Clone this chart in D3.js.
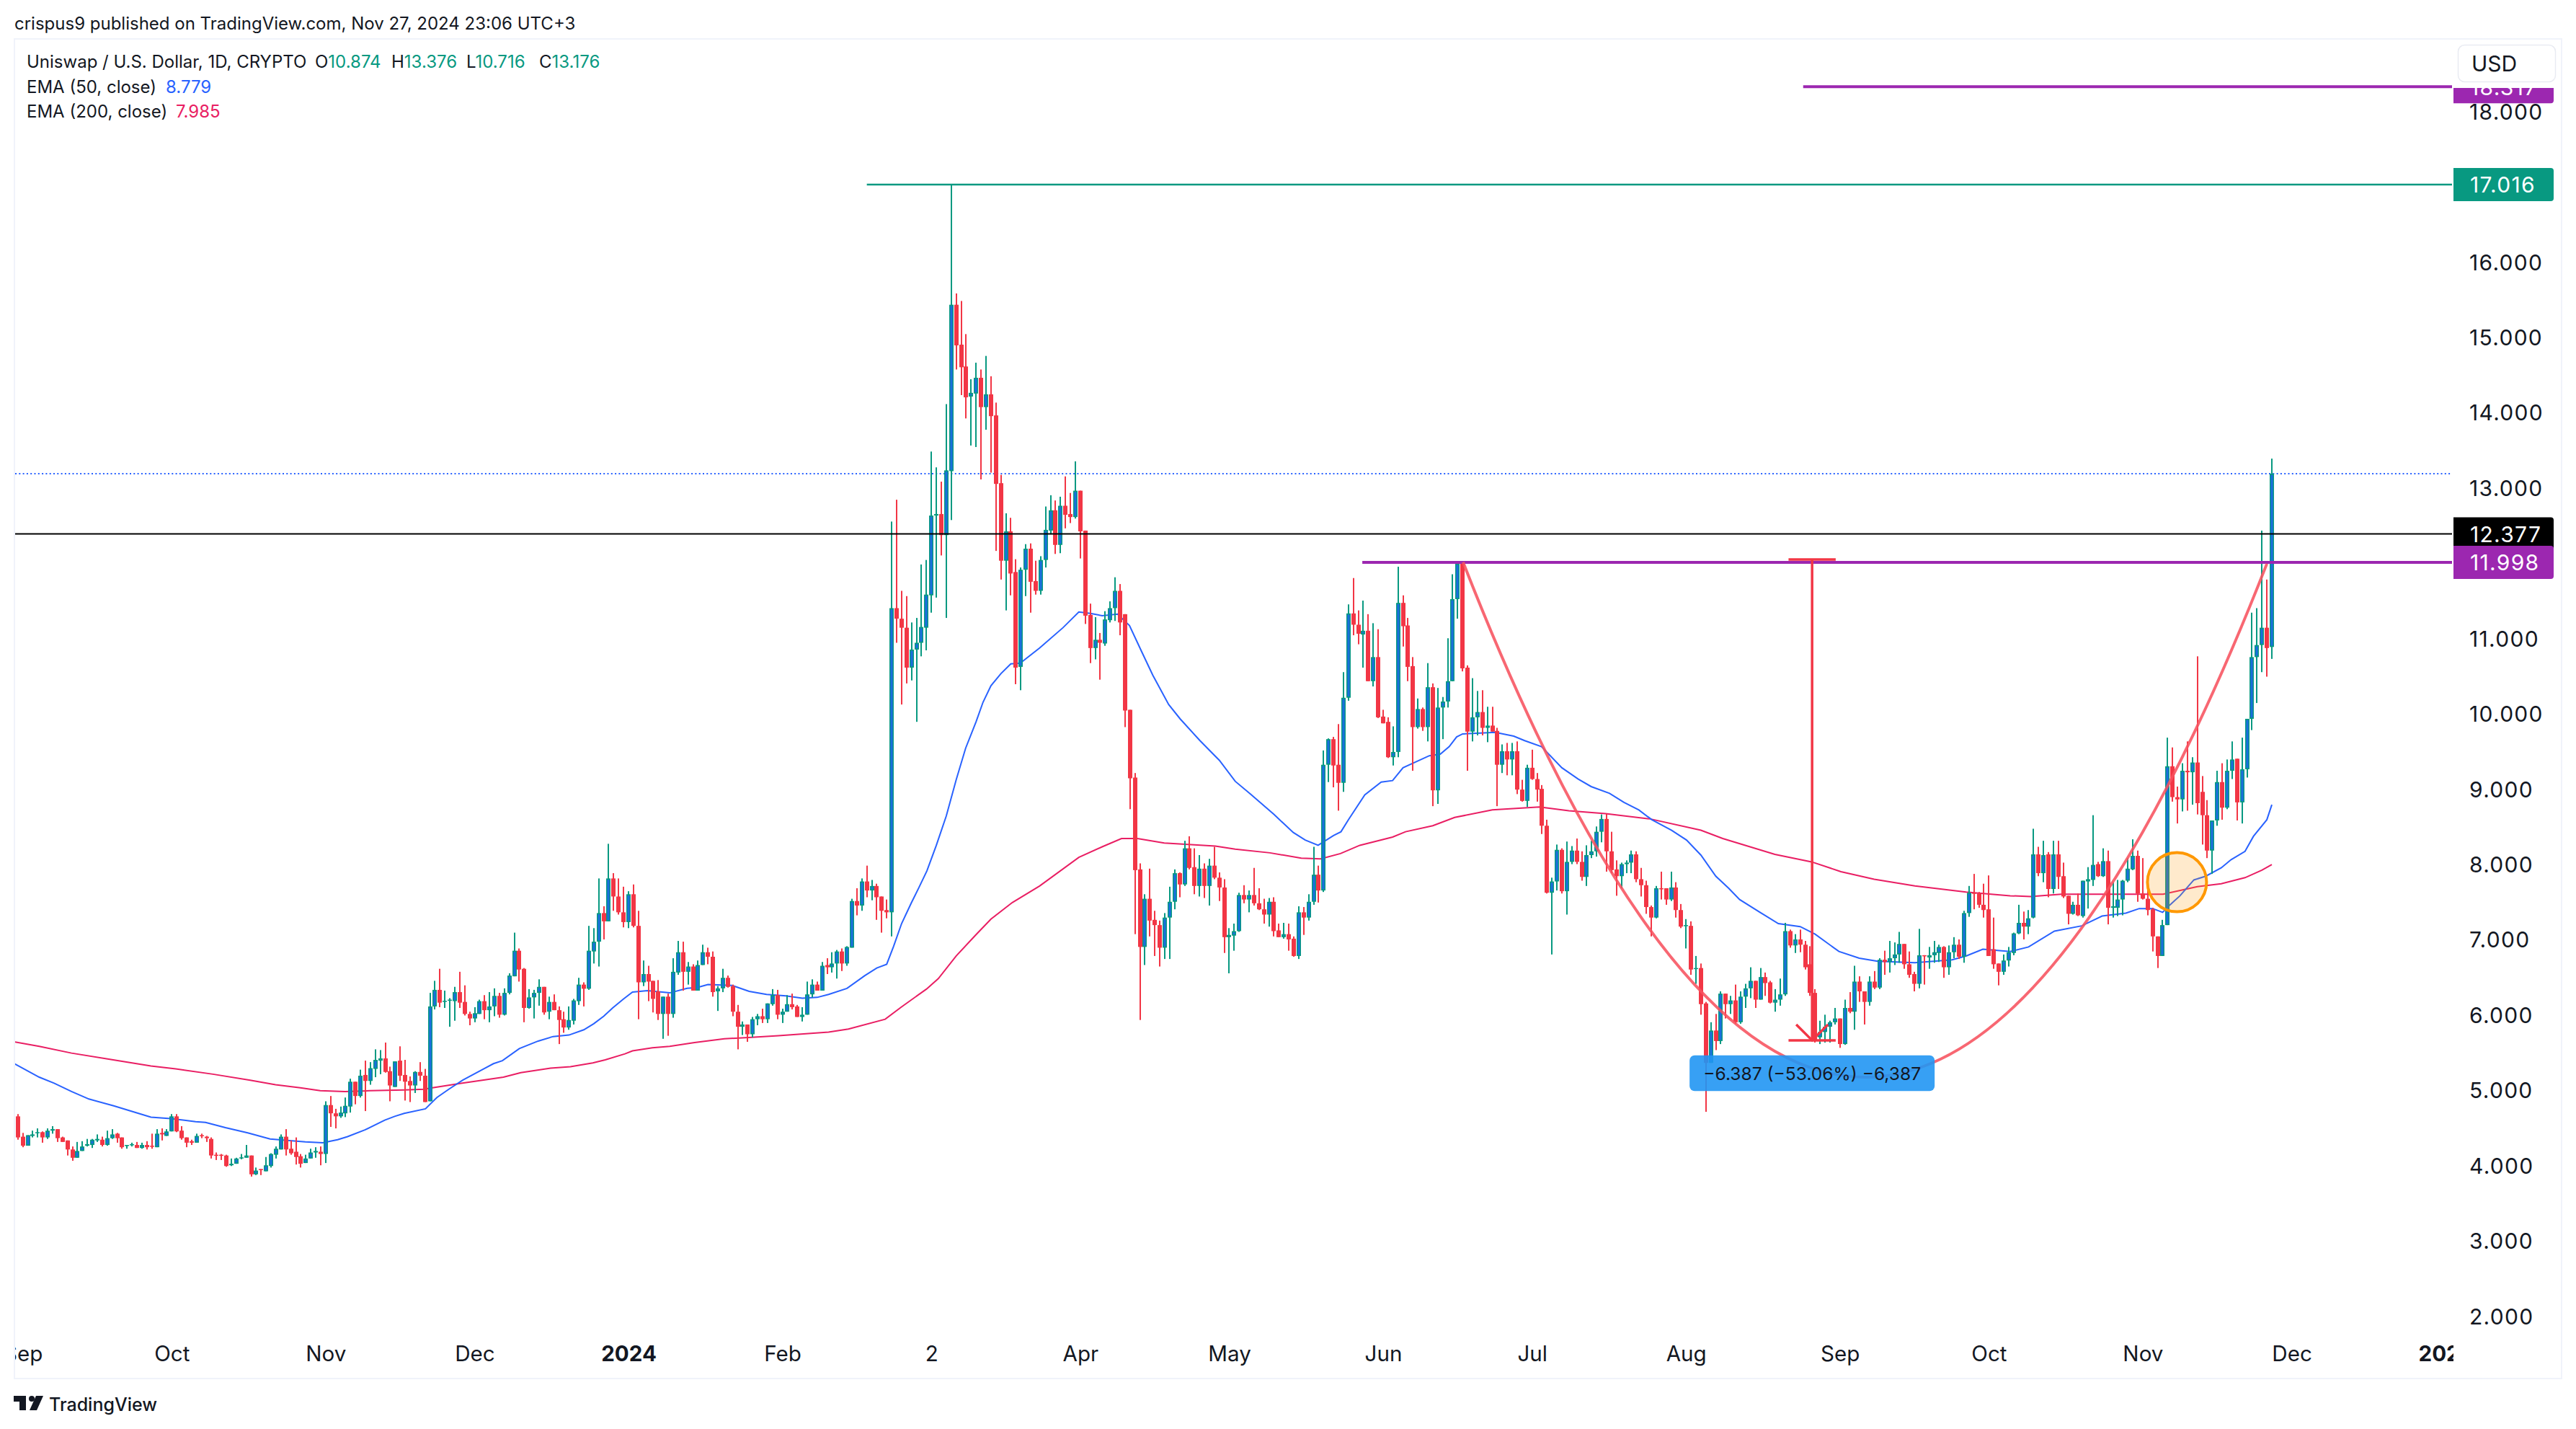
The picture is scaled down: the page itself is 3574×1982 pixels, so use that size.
<!DOCTYPE html>
<html><head><meta charset="utf-8">
<script src="https://cdnjs.cloudflare.com/ajax/libs/d3/7.8.5/d3.min.js"></script>
<style>html,body{margin:0;padding:0;background:#fff}svg{display:block}text{font-family:Inter,"Noto Sans",sans-serif}</style>
</head><body><svg id="c" width="3574" height="1982"></svg>
<script>
// Daily candles, first entry is the partly hidden candle at the left edge; last entry is 27 Nov 2024
const lastDay = Date.UTC(2024,10,27);
const opens = [4.80,
4.64,4.37,4.25,4.38,4.42,4.43,4.36,4.45,4.47,4.36,
4.32,4.20,4.09,4.18,4.25,4.26,4.32,4.33,4.26,4.35,
4.41,4.36,4.25,4.26,4.26,4.22,4.26,4.25,4.23,4.42,
4.38,4.44,4.64,4.45,4.36,4.31,4.29,4.39,4.37,4.34,
4.13,4.13,4.12,3.99,4.01,4.085,4.09,4.12,3.87,3.94,
3.91,3.98,4.13,4.20,4.37,4.21,4.17,4.11,4.02,4.08,
4.16,4.17,4.14,4.79,4.68,4.64,4.68,4.77,5.10,4.91,
5.19,5.11,5.27,5.38,5.41,5.24,5.03,5.38,5.19,5.11,
5.05,5.23,5.18,4.84,6.10,6.32,6.165,6.18,6.17,6.29,
6.16,6.00,5.94,6.00,6.17,6.05,6.10,6.24,5.99,6.28,
6.50,6.84,6.60,6.08,6.22,6.28,6.36,6.03,6.16,6.05,
5.93,5.82,5.91,6.17,6.39,6.335,6.83,6.96,7.34,7.23,
7.80,7.56,7.35,7.22,7.59,7.17,6.42,6.53,6.44,6.30,
6.00,6.23,6.00,6.55,6.82,6.56,6.63,6.31,6.65,6.82,
6.76,6.30,6.34,6.48,6.37,6.03,5.83,5.86,5.73,5.93,
5.97,5.93,6.13,6.25,5.99,6.03,6.13,6.10,5.96,5.99,
6.26,6.39,6.31,6.65,6.62,6.67,6.83,6.67,6.88,7.50,
7.44,7.76,7.64,7.70,7.56,7.38,7.35,11.39,11.25,11.13,
10.60,10.84,10.93,11.13,11.56,12.62,12.64,12.36,13.21,15.42,
14.89,14.60,14.20,14.24,14.45,14.06,14.23,13.95,13.05,12.02,
12.41,11.87,10.61,11.90,12.18,11.75,11.62,12.03,12.42,12.69,
12.23,12.75,12.64,12.60,12.95,12.42,11.30,10.86,10.97,10.92,
11.23,11.39,11.62,11.31,10.04,9.14,7.92,6.89,7.53,7.25,
7.18,6.88,7.28,7.49,7.87,7.72,8.20,7.95,7.70,7.93,
7.70,7.97,7.81,7.68,7.02,7.04,7.10,7.58,7.52,7.58,
7.47,7.39,7.32,7.49,7.11,7.02,7.06,7.00,6.77,7.35,
7.28,7.49,7.85,7.64,9.31,9.65,9.31,9.07,10.20,11.32,
11.17,11.04,11.09,10.42,10.74,9.95,9.88,9.41,9.48,11.46,
11.16,10.62,9.81,10.05,9.81,10.34,8.97,10.07,10.15,10.42,
11.51,11.98,10.60,9.75,9.94,10.01,9.80,9.83,9.76,9.31,
9.49,9.38,9.49,8.98,8.83,9.27,9.12,8.99,8.50,7.61,
7.76,8.18,7.63,8.02,8.17,8.02,7.82,8.11,8.16,8.42,
8.59,8.16,7.92,7.83,7.99,8.01,8.12,7.79,7.71,7.42,
7.28,7.67,7.67,7.52,7.68,7.38,7.17,7.17,6.60,6.61,
6.14,5.35,5.78,5.64,6.27,6.13,6.18,5.89,6.23,6.34,
6.44,6.19,6.49,6.42,6.15,6.19,6.26,7.10,6.91,6.99,
6.92,6.66,6.28,5.69,5.76,5.83,5.89,5.94,5.60,6.08,
6.03,6.43,6.30,6.16,6.43,6.35,6.72,6.69,6.74,6.79,
6.93,6.66,6.53,6.40,6.78,6.75,6.78,6.81,6.89,6.62,
6.82,6.92,6.76,7.34,7.61,7.60,7.45,7.39,6.86,6.67,
6.56,6.71,6.81,7.07,7.21,7.16,7.28,8.12,7.87,8.12,
7.66,8.12,7.83,7.57,7.33,7.45,7.30,7.76,7.78,7.99,
7.83,8.03,7.41,7.41,7.52,7.77,7.92,8.10,7.60,7.53,
7.39,7.03,6.77,7.18,9.29,8.88,8.85,9.23,9.21,9.34,
8.95,8.64,8.17,8.57,9.08,8.74,9.23,9.39,8.81,9.25,
9.92,10.74,10.90,11.13,10.874];
const closes = [4.64,
4.36,4.25,4.39,4.40,4.43,4.36,4.45,4.47,4.35,4.30,
4.20,4.09,4.18,4.24,4.27,4.33,4.34,4.26,4.35,4.40,
4.35,4.23,4.26,4.27,4.22,4.26,4.23,4.24,4.41,4.40,
4.44,4.64,4.44,4.35,4.29,4.29,4.38,4.38,4.35,4.12,
4.12,4.12,3.98,4.01,4.08,4.095,4.12,3.87,3.92,3.93,
3.99,4.14,4.21,4.37,4.20,4.15,4.10,4.01,4.08,4.16,
4.18,4.14,4.79,4.68,4.64,4.69,4.78,5.10,4.91,5.18,
5.11,5.28,5.39,5.41,5.23,5.05,5.37,5.18,5.10,5.05,
5.23,5.18,4.83,6.10,6.32,6.15,6.175,6.19,6.29,6.15,
6.00,5.94,6.01,6.17,6.05,6.10,6.24,5.99,6.28,6.51,
6.84,6.59,6.08,6.22,6.28,6.36,6.02,6.16,6.05,5.92,
5.82,5.92,6.18,6.39,6.335,6.84,6.96,7.34,7.23,7.80,
7.56,7.35,7.22,7.59,7.17,6.42,6.53,6.43,6.20,6.00,
6.23,6.00,6.56,6.82,6.56,6.63,6.31,6.65,6.82,6.76,
6.29,6.34,6.48,6.36,6.03,5.83,5.86,5.73,5.93,5.97,
5.93,6.14,6.25,5.99,6.03,6.13,6.09,5.96,5.99,6.26,
6.39,6.31,6.64,6.62,6.67,6.83,6.67,6.89,7.50,7.44,
7.76,7.64,7.70,7.55,7.37,7.35,11.39,11.25,11.13,10.60,
10.84,10.93,11.14,11.57,12.62,12.64,12.36,13.22,15.42,14.88,
14.59,14.19,14.25,14.45,14.06,14.23,13.94,13.04,12.02,12.41,
11.85,10.60,11.90,12.18,11.74,11.62,12.03,12.43,12.69,12.23,
12.75,12.63,12.60,12.95,12.41,11.29,10.86,10.97,10.93,11.24,
11.39,11.62,11.20,10.03,9.13,7.91,6.89,7.53,7.24,7.18,
6.88,7.28,7.49,7.87,7.72,8.20,7.94,7.70,7.93,7.70,
7.97,7.81,7.68,7.02,7.05,7.10,7.58,7.52,7.58,7.47,
7.39,7.32,7.49,7.10,7.02,7.06,6.99,6.77,7.35,7.28,
7.49,7.85,7.64,9.31,9.65,9.30,9.07,10.20,11.32,11.17,
11.05,11.09,10.42,10.74,9.94,9.86,9.41,9.48,11.46,11.15,
10.61,9.81,10.05,9.81,10.34,8.97,10.07,10.15,10.42,11.51,
11.98,10.59,9.75,9.94,10.01,9.80,9.83,9.75,9.31,9.49,
9.38,9.49,8.98,8.83,9.27,9.12,8.98,8.50,7.61,7.76,
8.18,7.63,8.02,8.17,8.02,7.82,8.11,8.16,8.42,8.59,
8.16,7.91,7.83,7.99,8.01,8.12,7.79,7.71,7.42,7.28,
7.67,7.66,7.52,7.68,7.38,7.16,7.18,6.59,6.61,6.13,
5.35,5.78,5.64,6.27,6.13,6.18,5.89,6.23,6.34,6.44,
6.19,6.49,6.41,6.15,6.19,6.26,7.10,6.91,6.99,6.92,
6.62,6.28,5.64,5.76,5.83,5.89,5.94,5.60,6.08,6.03,
6.43,6.30,6.16,6.43,6.35,6.72,6.69,6.74,6.79,6.93,
6.66,6.52,6.40,6.78,6.77,6.78,6.82,6.89,6.62,6.82,
6.92,6.76,7.34,7.61,7.60,7.45,7.38,6.77,6.66,6.56,
6.71,6.82,7.07,7.21,7.16,7.27,8.12,7.87,8.11,7.66,
8.12,7.82,7.56,7.33,7.45,7.31,7.77,7.79,7.98,7.83,
8.03,7.41,7.43,7.52,7.77,7.93,8.10,7.60,7.53,7.38,
7.03,6.77,7.18,9.29,8.88,8.85,9.23,9.21,9.34,8.80,
8.64,8.17,8.57,9.08,8.74,9.23,9.38,8.81,9.25,9.92,
10.74,10.90,11.13,10.86,13.176];
const highs = [4.85,
4.67,4.42,4.39,4.45,4.48,4.44,4.48,4.51,4.47,4.37,
4.32,4.24,4.30,4.31,4.34,4.34,4.40,4.37,4.45,4.47,
4.42,4.36,4.26,4.29,4.30,4.29,4.31,4.41,4.47,4.48,
4.47,4.67,4.67,4.51,4.36,4.33,4.41,4.41,4.38,4.36,
4.16,4.14,4.13,4.08,4.09,4.14,4.26,4.12,3.96,3.94,
4.10,4.15,4.24,4.40,4.47,4.32,4.36,4.14,4.13,4.21,
4.23,4.24,4.84,4.91,4.74,4.77,4.89,5.14,5.10,5.26,
5.38,5.36,5.53,5.52,5.62,5.30,5.37,5.57,5.39,5.17,
5.24,5.36,5.27,6.28,6.44,6.60,6.31,6.21,6.36,6.56,
6.38,6.03,6.09,6.19,6.25,6.29,6.34,6.28,6.34,6.54,
7.08,6.87,6.61,6.33,6.32,6.46,6.36,6.23,6.26,6.10,
6.03,6.10,6.20,6.48,6.42,7.17,7.14,7.80,7.43,8.26,
7.87,7.80,7.69,7.63,7.72,7.37,6.71,6.64,6.44,6.45,
6.23,6.27,6.74,6.97,6.96,6.69,6.66,6.71,6.92,6.88,
6.83,6.37,6.60,6.51,6.39,6.12,5.90,5.86,5.96,6.00,
6.07,6.14,6.33,6.32,6.07,6.25,6.27,6.12,6.09,6.43,
6.46,6.43,6.69,6.74,6.82,6.85,6.87,6.90,7.53,7.67,
7.80,7.97,7.78,7.73,7.56,7.52,12.54,12.83,11.62,11.55,
11.20,11.26,11.97,12.03,13.47,13.26,13.07,14.10,17.016,15.57,
15.47,15.03,14.43,14.65,14.56,14.74,14.47,14.12,13.16,12.65,
12.59,12.04,11.93,12.24,12.25,12.02,12.08,12.74,12.89,12.82,
12.87,13.14,12.92,13.34,12.95,12.42,11.45,11.27,11.06,11.35,
11.48,11.80,11.71,11.31,10.04,9.20,8.00,7.59,7.93,7.37,
7.24,7.34,7.69,7.92,7.88,8.30,8.36,8.20,8.11,8.00,
8.06,8.22,7.88,7.79,7.14,7.20,7.61,7.71,7.64,7.94,
7.67,7.53,7.54,7.55,7.20,7.21,7.20,7.03,7.43,7.42,
7.59,8.22,7.97,9.50,9.66,9.68,9.85,10.54,11.44,11.79,
11.36,11.49,11.31,11.19,11.11,10.04,9.94,9.82,11.94,11.56,
11.26,10.74,10.19,10.07,10.66,10.39,10.33,10.21,10.99,11.84,
11.99,12.00,10.63,10.46,10.29,10.30,10.08,10.08,9.80,9.58,
9.60,9.60,9.62,9.11,9.31,9.51,9.20,9.04,8.58,7.81,
8.25,8.20,8.29,8.23,8.33,8.16,8.24,8.30,8.49,8.65,
8.66,8.42,8.04,8.01,8.04,8.17,8.16,7.94,7.77,7.44,
7.70,7.89,7.67,7.89,7.75,7.46,7.26,7.23,6.77,6.67,
6.16,5.89,6.00,6.30,6.27,6.24,6.39,6.30,6.40,6.62,
6.44,6.61,6.55,6.44,6.33,6.47,7.21,7.12,7.06,7.12,
6.97,6.90,6.33,5.91,5.99,5.91,6.08,5.94,6.19,6.29,
6.64,6.50,6.30,6.50,6.57,6.74,6.84,6.97,6.95,7.09,
6.93,6.83,6.56,7.13,6.78,6.89,6.97,6.92,6.90,6.91,
7.02,6.99,7.37,7.70,7.86,7.62,7.73,7.84,7.28,6.67,
6.79,6.89,7.08,7.45,7.36,7.38,8.46,8.22,8.30,8.15,
8.30,8.30,8.01,7.57,7.49,7.60,7.77,7.95,8.64,8.02,
8.20,8.17,7.75,7.78,7.78,8.07,8.32,8.17,8.07,7.75,
7.41,7.03,7.25,9.67,9.54,9.02,9.33,9.62,9.41,10.75,
9.16,8.84,8.57,9.23,9.33,9.38,9.62,9.39,9.67,9.92,
11.33,11.39,12.42,11.77,13.376];
const lows = [4.62,
4.33,4.23,4.25,4.36,4.36,4.29,4.34,4.41,4.30,4.30,
4.12,4.05,4.09,4.18,4.24,4.22,4.30,4.24,4.25,4.34,
4.29,4.21,4.21,4.24,4.22,4.21,4.20,4.21,4.23,4.32,
4.38,4.44,4.43,4.33,4.23,4.26,4.29,4.35,4.30,4.08,
4.06,4.06,3.97,3.98,4.01,4.07,4.09,3.84,3.86,3.86,
3.91,3.96,4.08,4.20,4.12,4.13,4.00,3.96,4.02,4.08,
4.09,3.99,4.02,4.50,4.48,4.62,4.63,4.69,4.80,4.89,
4.71,5.06,5.16,5.20,5.22,4.84,5.03,5.11,4.85,4.83,
4.95,5.11,4.83,4.84,6.06,6.09,6.08,5.83,5.91,6.08,
5.98,5.85,5.89,6.00,5.93,5.89,5.97,5.95,5.98,6.26,
6.50,6.43,5.89,6.07,5.94,6.11,5.99,5.93,6.05,5.60,
5.75,5.79,5.86,6.12,6.10,6.32,6.67,6.63,6.99,7.23,
7.37,7.32,7.15,7.14,7.15,5.93,6.37,6.17,6.02,5.92,
5.67,5.71,5.95,6.52,6.31,6.39,6.31,6.31,6.65,6.66,
6.23,6.04,6.29,6.35,5.97,5.53,5.72,5.63,5.69,5.85,
5.88,5.88,6.11,5.93,5.88,6.03,6.06,5.96,5.90,5.99,
6.22,6.31,6.31,6.53,6.55,6.47,6.57,6.64,6.88,7.31,
7.37,7.55,7.51,7.25,7.08,7.27,7.03,10.93,10.11,10.39,
10.43,9.88,10.75,10.83,11.33,11.53,12.09,11.26,12.56,14.56,
14.22,13.91,13.55,13.53,13.10,13.76,13.19,12.15,11.77,11.36,
11.56,10.38,10.30,11.55,11.33,11.57,11.57,11.93,12.37,12.11,
12.12,12.45,12.52,12.58,12.05,11.18,10.66,10.71,10.44,10.89,
11.20,11.22,11.03,9.81,8.72,7.06,5.92,6.65,7.03,6.77,
6.63,6.73,6.73,7.39,7.55,7.70,7.92,7.59,7.56,7.54,
7.44,7.79,7.50,6.81,6.54,6.84,7.09,7.47,7.35,7.44,
7.38,7.20,7.16,7.03,7.02,7.00,6.84,6.76,6.73,7.05,
7.24,7.45,7.48,7.62,9.08,9.01,8.70,8.95,10.16,11.03,
10.91,10.60,10.42,10.35,9.93,9.86,9.40,9.30,9.41,10.88,
10.42,9.23,9.79,9.76,9.62,8.76,8.79,9.65,10.07,10.42,
11.25,10.55,9.23,9.62,9.70,9.70,9.61,9.75,8.76,9.20,
9.17,9.17,8.92,8.82,8.75,9.11,8.82,8.39,7.60,6.79,
7.64,7.60,7.32,7.99,7.99,7.77,7.70,8.07,8.09,8.28,
7.89,7.87,7.57,7.67,7.87,7.87,7.75,7.56,7.33,7.03,
7.27,7.52,7.45,7.50,7.28,7.14,6.87,6.52,6.40,5.99,
4.70,5.35,5.52,5.60,5.94,6.00,5.87,5.87,6.08,6.21,
6.08,6.19,6.24,6.14,6.03,6.11,6.24,6.88,6.81,6.82,
6.59,6.24,5.62,5.60,5.62,5.62,5.86,5.55,5.59,6.01,
5.79,6.16,5.86,6.11,6.33,6.33,6.52,6.55,6.65,6.68,
6.60,6.48,6.30,6.34,6.39,6.60,6.68,6.69,6.48,6.52,
6.74,6.73,6.68,7.29,7.39,7.41,7.28,6.77,6.60,6.38,
6.52,6.63,6.78,7.06,6.99,7.06,7.27,7.83,7.75,7.55,
7.60,7.66,7.54,7.19,7.32,7.30,7.28,7.40,7.70,7.82,
7.82,7.19,7.28,7.30,7.31,7.75,7.91,7.49,7.52,7.31,
6.83,6.61,6.77,7.18,8.82,8.53,8.69,8.70,8.78,8.65,
8.25,8.07,7.86,8.50,8.58,8.72,9.12,8.57,8.53,9.14,
9.77,10.13,10.54,10.48,10.716];

// Moving averages read at their visible bends: days are counted from the second candle
const ema50Days = [-0.7,4.3,7.3,10.8,14.3,19.3,24.3,26.8,30.8,35.8,37.8,41.8,46.3,50.8,54.3,57.9,61.4,64.4,66.4,69.9,73.9,75.9,77.8,82.1,84.4,86.8,89.6,93.8,95.8,97.6,101,104.8,107.8,111,114,116,118,119.8,122,123.8,126.8,131.3,134.8,136.8,139,143.8,147.3,150.8,154.7,158,161,163.3,167,170.6,173,175,176.4,178,180,181.5,183.1,185,187,189,190.9,193,194.4,196,198,200,201.9,205.8,210.5,213.7,216,218.4,221.5,223.9,226.3,228.6,231.8,234.1,238.1,242,245.2,248.3,253,256.9,259.3,261.9,265,266.5,268,271.3,274.6,276.9,279,284.3,286.5,288.3,289.8,291,294.6,297.6,301.3,303.5,306.9,311,314.3,316.9,320.6,323.5,326.5,329.1,333.1,336.1,339,342,344.6,346.8,350.9,354.6,359,362,366.8,370.9,374.6,382.1,389.6,392.4,395.8,401.3,405,410.2,415.7,419.8,424.6,427.3,430,432,433.5,435.5,438.3,440.7,443.8,445.8,448.6,450.3,453,454];
const ema50Vals = [5.34,5.16,5.08,4.97,4.87,4.78,4.68,4.63,4.61,4.57,4.56,4.49,4.42,4.34,4.32,4.30,4.29,4.33,4.37,4.46,4.59,4.64,4.68,4.74,4.89,5.0,5.12,5.27,5.34,5.38,5.54,5.64,5.70,5.72,5.79,5.87,5.97,6.08,6.20,6.29,6.31,6.28,6.34,6.35,6.39,6.38,6.30,6.26,6.24,6.21,6.22,6.26,6.34,6.51,6.61,6.66,6.90,7.2,7.48,7.68,7.90,8.24,8.63,9.11,9.53,9.88,10.14,10.36,10.52,10.65,10.66,10.86,11.13,11.34,11.32,11.29,11.31,11.16,10.82,10.50,10.11,9.92,9.63,9.37,9.09,8.92,8.65,8.41,8.31,8.24,8.37,8.42,8.58,8.91,9.08,9.10,9.27,9.43,9.45,9.55,9.68,9.72,9.73,9.74,9.69,9.63,9.55,9.27,9.12,9.02,8.93,8.81,8.71,8.58,8.44,8.31,8.11,7.83,7.67,7.52,7.35,7.20,7.16,7.06,6.83,6.74,6.70,6.68,6.72,6.77,6.86,6.83,6.89,7.10,7.17,7.30,7.34,7.40,7.40,7.35,7.45,7.57,7.78,7.83,7.94,8.05,8.16,8.36,8.58,8.779];
const ema200Days = [-0.7,4.3,10.8,18.3,26.8,31.8,39.3,46.8,51.9,56.9,60.9,65.9,70.9,77.8,81.8,83.5,89.3,97.8,101.3,107.3,111.3,115.8,118.3,122.3,123.8,127.8,131.3,136.3,142.3,147.8,153.2,163.3,167.3,174.7,177.9,183,185.4,189,192.8,196,200.3,205.8,213.7,218.4,222.3,225.5,230.9,241.2,245.2,252.2,258.5,262.4,266.4,270.3,276.9,279.5,285,289.4,297,306.5,312.4,319.8,328.8,339,343.4,353.9,361.3,367.2,373.9,382.1,392.4,401.3,405.4,411.6,421.8,432.1,439,443.8,448.6,452,454];
const ema200Vals = [5.63,5.57,5.48,5.40,5.31,5.27,5.20,5.12,5.06,5.02,4.98,4.97,4.98,4.99,5.00,5.02,5.08,5.16,5.22,5.28,5.30,5.35,5.39,5.47,5.51,5.55,5.57,5.62,5.67,5.69,5.71,5.76,5.80,5.93,6.09,6.33,6.47,6.77,7.04,7.26,7.48,7.70,8.08,8.22,8.33,8.33,8.27,8.23,8.19,8.14,8.07,8.06,8.13,8.24,8.35,8.42,8.50,8.61,8.71,8.75,8.70,8.66,8.59,8.44,8.33,8.12,8.02,7.89,7.79,7.70,7.62,7.57,7.56,7.59,7.59,7.59,7.69,7.73,7.81,7.91,7.985];

const priceTicks = [18,16,15,14,13,11,10,9,8,7,6,5,4,3,2];
const timeTickDates = [[2023,8,1],[2023,9,1],[2023,10,1],[2023,11,1],[2024,0,1],[2024,1,1],[2024,2,2],[2024,3,1],[2024,4,1],[2024,5,1],[2024,6,1],[2024,7,1],[2024,8,1],[2024,9,1],[2024,10,1],[2024,11,1],[2025,0,1]];
const timeTickNames = ["Sep","Oct","Nov","Dec","2024","Feb","2","Apr","May","Jun","Jul","Aug","Sep","Oct","Nov","Dec","2025"];
const boldTicks = ["2024","2025"];

const C = {green:"#089981",red:"#f23645",blue:"#1a6fdc",purple:"#9c27b0",ink:"#131722",ema50:"#2962ff",ema200:"#e91e63",cup:"#f7525f",border:"#f0f3fa",orange:"#ff9800",label:"#2196f3"};
const DAY = 864e5;
const dayDate = i => new Date(lastDay-(454-i)*DAY);

const svg = d3.select("#c");
const x = d3.scaleUtc().domain([dayDate(0),dayDate(454)]).range([24.8,3152]);
const y = d3.scaleLinear().domain([17.016,11.998]).range([256,780]);
const X = i => x(dayDate(i));

const defs = svg.append("defs");
defs.append("clipPath").attr("id","plot").append("rect").attr("x",21).attr("y",55).attr("width",3382).attr("height",1856);
defs.append("clipPath").attr("id","tags").append("rect").attr("x",3400).attr("y",122).attr("width",160).attr("height",1700);

svg.append("rect").attr("x",20).attr("y",54).attr("width",3534).attr("height",1858).attr("fill","#fff").attr("stroke",C.border).attr("stroke-width",2);

const plot = svg.append("g").attr("clip-path","url(#plot)");

// last price dotted line
plot.append("line").attr("x1",21).attr("x2",3402).attr("y1",y(13.176)).attr("y2",y(13.176))
  .attr("stroke",C.ema50).attr("stroke-width",2).attr("stroke-dasharray","2 3.3");

// moving averages
const emaLine = d3.line().x(d=>X(d[0])).y(d=>y(d[1]));
plot.append("path").datum(d3.zip(ema200Days,ema200Vals)).attr("d",emaLine).attr("fill","none").attr("stroke",C.ema200).attr("stroke-width",2);
plot.append("path").datum(d3.zip(ema50Days,ema50Vals)).attr("d",emaLine).attr("fill","none").attr("stroke",C.ema50).attr("stroke-width",2);

// candles
const candles = opens.map((o,k)=>({i:k-1,o,h:highs[k],l:lows[k],c:closes[k]}));
const g = plot.append("g").selectAll("g").data(candles).join("g")
  .attr("transform",d=>`translate(${Math.round(X(d.i))},0)`);
g.append("rect").attr("x",-1).attr("width",2).attr("y",d=>y(d.h)).attr("height",d=>y(d.l)-y(d.h))
  .attr("fill",d=>d.c>=d.o?C.green:C.red);
const bodyTop = d=>y(Math.max(d.o,d.c)), bodyBot = d=>y(Math.min(d.o,d.c));
g.append("rect").attr("x",-3).attr("width",6).attr("y",bodyTop).attr("height",d=>Math.max(1.5,bodyBot(d)-bodyTop(d)))
  .attr("fill",d=>d.c>=d.o?C.green:C.red);
g.filter(d=>d.c>d.o && bodyBot(d)-bodyTop(d)>3.5).append("rect").attr("x",-1.6).attr("width",3.2)
  .attr("y",d=>bodyTop(d)+1.75).attr("height",d=>bodyBot(d)-bodyTop(d)-3.5).attr("fill",C.blue);

// horizontal drawings
const levels = [
 {p:18.317,from:dayDate(359.6),col:C.purple,w:4},
 {p:17.016,from:dayDate(171),col:C.green,w:2.5},
 {p:12.377,from:dayDate(-2),col:"#000",w:2},
 {p:11.998,from:dayDate(270.8),col:C.purple,w:4}];
plot.selectAll("line.lv").data(levels).join("line").attr("class","lv")
  .attr("x1",d=>x(d.from)).attr("x2",3402).attr("y1",d=>y(d.p)).attr("y2",d=>y(d.p))
  .attr("stroke",d=>d.col).attr("stroke-width",d=>d.w);

// cup curve
const cup = d3.path();
cup.moveTo(X(291.1),y(12.0));
cup.quadraticCurveTo(X(372),y(-1.67),X(453),y(11.98));
plot.append("path").attr("d",cup.toString()).attr("fill","none").attr("stroke",C.cup).attr("stroke-width",4).attr("stroke-opacity",.88);

// orange circle
plot.append("circle").attr("cx",X(434.9)).attr("cy",y(7.75)).attr("r",41)
  .attr("fill",C.orange).attr("fill-opacity",.2).attr("stroke",C.orange).attr("stroke-width",4);

// measure arrow
const mX = X(361.4), mTop=12.037, mBot=5.650, capHalf=4.75;
const red = plot.append("g").attr("stroke",C.red).attr("stroke-width",3.5).attr("fill","none");
red.append("line").attr("x1",mX).attr("x2",mX).attr("y1",y(mTop)).attr("y2",y(mBot));
[mTop,mBot].forEach(p=>red.append("line").attr("x1",X(361.4-capHalf)).attr("x2",X(361.4+capHalf)).attr("y1",y(p)).attr("y2",y(p)));
red.append("path").attr("d",`M${X(358.2)},${y(5.86)}L${mX},${y(mBot)}L${X(364.6)},${y(5.86)}`);

// measure label
plot.append("rect").attr("x",X(361.4)-170).attr("y",y(5.45)).attr("width",340).attr("height",49.5).attr("rx",7)
  .attr("fill",C.label).attr("fill-opacity",.9);
plot.append("text").attr("x",X(361.4)).attr("y",y(5.45)+25).attr("dy",".36em").attr("text-anchor","middle")
  .attr("font-size",24.6).attr("fill",C.ink).text("\u22126.387 (\u221253.06%) \u22126,387");

// price axis
const yAxis = d3.axisRight(y).tickValues(priceTicks).tickSize(0).tickPadding(0).tickFormat(d3.format(".3f"));
const ya = svg.append("g").attr("transform","translate(3426,0)").call(yAxis);
ya.select(".domain").remove();
ya.selectAll("text").attr("dy",".4em").attr("font-family","Inter").attr("font-size",30).attr("letter-spacing",1.3).attr("fill",C.ink);

// price tags
const tags = [{p:18.317,col:C.purple},{p:17.016,col:C.green},{p:12.377,col:"#000"},{p:11.998,col:C.purple}];
const tg = svg.append("g").attr("clip-path","url(#tags)").selectAll("g").data(tags).join("g")
  .attr("transform",d=>`translate(3404,${y(d.p)})`);
tg.append("path").attr("d","M0,-23H135a4,4 0 0 1 4,4V19a4,4 0 0 1 -4,4H0Z").attr("fill",d=>d.col);
tg.append("text").attr("x",23).attr("dy",".38em").attr("font-size",30).attr("letter-spacing",1.3).attr("fill","#fff").text(d=>d.p.toFixed(3));

// USD box
svg.append("rect").attr("x",3410.5).attr("y",62.5).attr("width",135).attr("height",51).attr("rx",9).attr("fill","#fff").attr("stroke","#e9ebf2").attr("stroke-width",1.5);
svg.append("text").attr("x",3429).attr("y",88).attr("dy",".36em").attr("font-size",30).attr("fill",C.ink).text("USD");

// time axis
defs.append("clipPath").attr("id","timeclip").append("rect").attr("x",21).attr("y",1830).attr("width",3383).attr("height",80);
const tDates = timeTickDates.map(d=>new Date(Date.UTC(d[0],d[1],d[2])));
const nameOf = new Map(tDates.map((d,k)=>[+d,timeTickNames[k]]));
const xAxis = d3.axisBottom(x).tickValues(tDates).tickSize(0).tickPadding(0).tickFormat(d=>nameOf.get(+d));
const xa = svg.append("g").attr("clip-path","url(#timeclip)").append("g").attr("transform","translate(0,1877)").call(xAxis);
xa.select(".domain").remove();
xa.selectAll("text").attr("dy",".36em").attr("y",0).attr("font-family","Inter").attr("font-size",29.6).attr("fill",C.ink)
  .attr("font-weight",d=>boldTicks.includes(nameOf.get(+d))?700:400);

// header and legend
const txt = (s,px,py,col,size,w)=>svg.append("text").attr("x",px).attr("y",py).attr("dy",".36em").attr("font-size",size||24).attr("fill",col||C.ink).attr("font-weight",w||400).text(s);
txt("crispus9 published on TradingView.com, Nov 27, 2024 23:06 UTC+3",20,32);
txt("Uniswap / U.S. Dollar, 1D, CRYPTO",37,85);
[["O","10.874",437],["H","13.376",543],["L","10.716",647],["C","13.176",748]].forEach(o=>{
  const t=svg.append("text").attr("x",o[2]).attr("y",85).attr("dy",".36em").attr("font-size",24).attr("fill",C.ink).text(o[0]);
  t.append("tspan").attr("fill",C.green).text(o[1]);
});
txt("EMA (50, close)",37,120); txt("8.779",230,120,C.ema50);
txt("EMA (200, close)",37,154); txt("7.985",244,154,C.ema200);

// footer
svg.append("path").attr("d","M19,1936H36V1956H27V1944H19Z M60,1936L51,1956H41L50,1936Z").attr("fill",C.ink);
svg.append("circle").attr("cx",44).attr("cy",1940).attr("r",4).attr("fill",C.ink);
txt("TradingView",68,1948,C.ink,25,500);
</script></body></html>
